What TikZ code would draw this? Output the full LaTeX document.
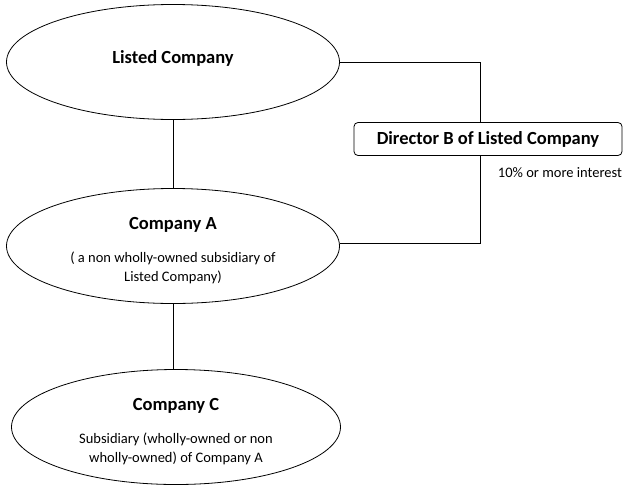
\documentclass[tikz,border=0pt]{standalone}
\usepackage{fontspec}
\setmainfont{Carlito}
\usetikzlibrary{shapes.geometric}

\newcommand{\titletext}{\fontsize{18.5}{22}\selectfont\bfseries\rule{0pt}{21pt}}
\newcommand{\subtext}{\fontsize{14.5}{19}\selectfont}

\tikzset{%
  every company/.style={
    ellipse,
    draw,
    align=center,
    inner sep=0pt,
    minimum width=333pt,
    minimum height=115pt,
    font=\subtext
  },
  director box/.style={
    rectangle,
    draw,
    rounded corners=4pt,
    minimum width=268pt,
    minimum height=33pt,
    font=\fontsize{18.5}{22}\selectfont\bfseries
  },
}

\begin{document}
\begin{tikzpicture}[x=1pt, y=-1pt, line width=0.8pt]
\useasboundingbox (0,0) rectangle (631,490);

\node [every company, text depth=18pt] (listed) at (173,62) {\titletext Listed Company};

\node [every company] (companyA) at (173,246)
  {{\titletext Company A}\\[14pt]
   ( a non wholly-owned subsidiary of\\ Listed Company)};

\node [every company, minimum width=329pt] (companyC) at (176,427)
  {{\titletext Company C}\\[14pt]
   Subsidiary (wholly-owned or non\\ wholly-owned) of Company A};

\node [director box] (director) at (488,139) {Director B of Listed Company};

\node [font=\subtext] (interest) at (560,173) {10\% or more interest};

\draw (listed.south) -- (companyA.north);
\draw (companyA.south) -- (companyA.south |- companyC.north);

\draw (listed.east) -| ([xshift=-8pt]director.north);
\draw ([xshift=-8pt]director.south) |- ([yshift=3pt]companyA.east);

\end{tikzpicture}
\end{document}
